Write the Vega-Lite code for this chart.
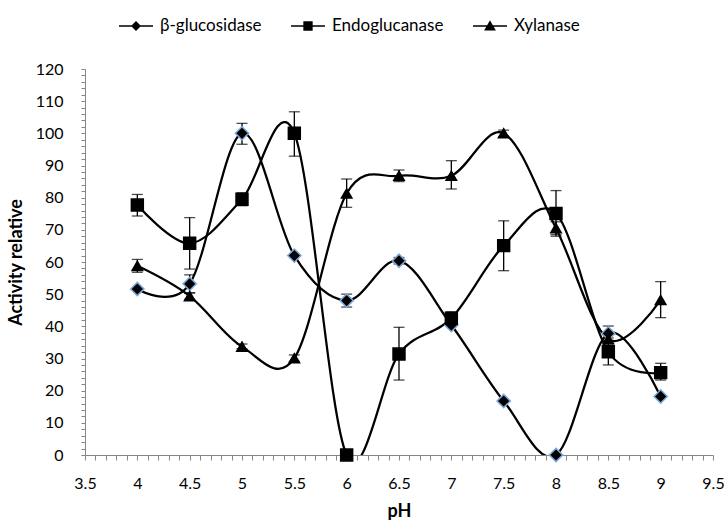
{
  "$schema": "https://vega.github.io/schema/vega-lite/v6.json",
  "width": 628,
  "height": 386,
  "autosize": {"type": "none"},
  "padding": {"left": 85, "top": 69, "right": 12, "bottom": 68},
  "background": "white",
  "config": {
    "view": {"stroke": null},
    "font": "Lato",
    "axis": {"labelFont": "Lato", "titleFont": "Lato", "labelColor": "black", "titleColor": "black", "grid": false, "domainColor": "#868686", "tickColor": "#868686", "labelFontSize": 16, "titleFontSize": 18, "labelOverlap": false}
  },
  "data": {"values": [
    {"pH": 4, "series": "β-glucosidase", "value": 51.6, "lo": null, "hi": null},
    {"pH": 4.5, "series": "β-glucosidase", "value": 53.2, "lo": 50.4, "hi": 56.0},
    {"pH": 5, "series": "β-glucosidase", "value": 100, "lo": 96.6, "hi": 103.1},
    {"pH": 5.5, "series": "β-glucosidase", "value": 62, "lo": null, "hi": null},
    {"pH": 6, "series": "β-glucosidase", "value": 48, "lo": 46, "hi": 50},
    {"pH": 6.5, "series": "β-glucosidase", "value": 60.4, "lo": 59.4, "hi": 61.4},
    {"pH": 7, "series": "β-glucosidase", "value": 40.4, "lo": null, "hi": null},
    {"pH": 7.5, "series": "β-glucosidase", "value": 16.8, "lo": null, "hi": null},
    {"pH": 8, "series": "β-glucosidase", "value": 0, "lo": null, "hi": null},
    {"pH": 8.5, "series": "β-glucosidase", "value": 37.8, "lo": 35.5, "hi": 40.1},
    {"pH": 9, "series": "β-glucosidase", "value": 18.2, "lo": null, "hi": null},
    {"pH": 4, "series": "Endoglucanase", "value": 77.7, "lo": 74.3, "hi": 81},
    {"pH": 4.5, "series": "Endoglucanase", "value": 65.8, "lo": 57.8, "hi": 73.8},
    {"pH": 5, "series": "Endoglucanase", "value": 79.5, "lo": 77.5, "hi": 81.5},
    {"pH": 5.5, "series": "Endoglucanase", "value": 100, "lo": 92.9, "hi": 106.7},
    {"pH": 6, "series": "Endoglucanase", "value": 0, "lo": null, "hi": null},
    {"pH": 6.5, "series": "Endoglucanase", "value": 31.4, "lo": 23.3, "hi": 39.7},
    {"pH": 7, "series": "Endoglucanase", "value": 42.5, "lo": 40.5, "hi": 44.5},
    {"pH": 7.5, "series": "Endoglucanase", "value": 65.1, "lo": 57.3, "hi": 72.8},
    {"pH": 8, "series": "Endoglucanase", "value": 75.1, "lo": 68, "hi": 82.2},
    {"pH": 8.5, "series": "Endoglucanase", "value": 32.1, "lo": 28, "hi": 36.4},
    {"pH": 9, "series": "Endoglucanase", "value": 25.6, "lo": 23.3, "hi": 28.5},
    {"pH": 4, "series": "Xylanase", "value": 58.8, "lo": 56.8, "hi": 60.8},
    {"pH": 4.5, "series": "Xylanase", "value": 49.4, "lo": 48.4, "hi": 50.4},
    {"pH": 5, "series": "Xylanase", "value": 33.7, "lo": 33, "hi": 34.5},
    {"pH": 5.5, "series": "Xylanase", "value": 30.1, "lo": 29.1, "hi": 31.1},
    {"pH": 6, "series": "Xylanase", "value": 81.3, "lo": 77, "hi": 85.8},
    {"pH": 6.5, "series": "Xylanase", "value": 86.8, "lo": 85, "hi": 88.6},
    {"pH": 7, "series": "Xylanase", "value": 86.8, "lo": 82.7, "hi": 91.5},
    {"pH": 7.5, "series": "Xylanase", "value": 100, "lo": 99, "hi": 101},
    {"pH": 8, "series": "Xylanase", "value": 70.5, "lo": 68.5, "hi": 72.5},
    {"pH": 8.5, "series": "Xylanase", "value": 36, "lo": 34.5, "hi": 37.5},
    {"pH": 9, "series": "Xylanase", "value": 48.2, "lo": 42.7, "hi": 53.9}
  ]},
  "encoding": {
    "x": {"field": "pH", "type": "quantitative", "scale": {"domain": [3.5, 9.5], "nice": false, "zero": false},
      "axis": {"title": "pH", "titleFontWeight": "bold", "titlePadding": 11, "tickSize": 5, "labelPadding": 15, "labelFlush": false,
        "values": [3.5,3.6,3.7,3.8,3.9,4.0,4.1,4.2,4.3,4.4,4.5,4.6,4.7,4.8,4.9,5.0,5.1,5.2,5.3,5.4,5.5,5.6,5.7,5.8,5.9,6.0,6.1,6.2,6.3,6.4,6.5,6.6,6.7,6.8,6.9,7.0,7.1,7.2,7.3,7.4,7.5,7.6,7.7,7.8,7.9,8.0,8.1,8.2,8.3,8.4,8.5,8.6,8.7,8.8,8.9,9.0,9.1,9.2,9.3,9.4,9.5],
        "labelExpr": "abs(datum.value*2 - round(datum.value*2)) < 0.01 ? format(datum.value, '~g') : ''"}},
    "y": {"field": "value", "type": "quantitative", "scale": {"domain": [0, 120], "nice": false},
      "axis": {"title": "Activity relative", "titleFontWeight": "bold", "titlePadding": 10, "tickSize": 4, "labelPadding": 18,
        "values": [0,2,4,6,8,10,12,14,16,18,20,22,24,26,28,30,32,34,36,38,40,42,44,46,48,50,52,54,56,58,60,62,64,66,68,70,72,74,76,78,80,82,84,86,88,90,92,94,96,98,100,102,104,106,108,110,112,114,116,118,120],
        "labelExpr": "datum.value % 10 == 0 ? format(datum.value, 'd') : ''"}}
  },
  "layer": [
    {
      "mark": {"type": "line", "interpolate": "cardinal", "tension": 0, "color": "black", "strokeWidth": 2.25, "clip": true},
      "encoding": {"detail": {"field": "series"}}
    },
    {
      "transform": [{"filter": "datum.lo != null"}],
      "mark": {"type": "rule", "color": "black", "strokeWidth": 1.3},
      "encoding": {"y": {"field": "lo", "type": "quantitative"}, "y2": {"field": "hi"}}
    },
    {
      "transform": [{"filter": "datum.lo != null"}],
      "mark": {"type": "tick", "orient": "horizontal", "color": "black", "size": 11, "thickness": 1.3},
      "encoding": {"y": {"field": "lo", "type": "quantitative"}}
    },
    {
      "transform": [{"filter": "datum.lo != null"}],
      "mark": {"type": "tick", "orient": "horizontal", "color": "black", "size": 11, "thickness": 1.3},
      "encoding": {"y": {"field": "hi", "type": "quantitative"}}
    },
    {
      "mark": {"type": "point", "filled": true, "fill": "black", "strokeWidth": 1.5, "opacity": 1},
      "encoding": {
        "shape": {"field": "series", "type": "nominal", "scale": {"domain": ["β-glucosidase", "Endoglucanase", "Xylanase"], "range": ["diamond", "square", "triangle-up"]}, "legend": null},
        "stroke": {"field": "series", "type": "nominal", "scale": {"domain": ["β-glucosidase", "Endoglucanase", "Xylanase"], "range": ["#7BA7D9", "black", "black"]}, "legend": null},
        "size": {"field": "series", "type": "nominal", "scale": {"domain": ["β-glucosidase", "Endoglucanase", "Xylanase"], "range": [175, 110, 120]}, "legend": null}
      }
    },
    {
      "mark": {"type": "point", "filled": true, "fill": "black", "stroke": "black", "strokeWidth": 2, "opacity": 0},
      "encoding": {
        "shape": {"field": "series", "type": "nominal", "title": null,
          "scale": {"domain": ["β-glucosidase", "Endoglucanase", "Xylanase"], "range": ["M-1,0H1M0,-0.23L0.23,0L0,0.23L-0.23,0Z", "M-1,0H1M-0.23,-0.23H0.23V0.23H-0.23Z", "M-1,0H1M0,-0.25L0.27,0.22H-0.27Z"]},
          "legend": {"orient": "none", "legendX": 33, "legendY": -61, "direction": "horizontal", "symbolSize": 1156, "labelFont": "Lato", "labelFontSize": 17, "labelColor": "black", "labelOffset": 6, "columnPadding": 26, "labelLimit": 300,
            "encode": {"symbols": {"update": {"stroke": {"value": "black"}, "strokeWidth": {"value": 2}, "fill": {"value": "black"}, "opacity": {"value": 1}, "fillOpacity": {"value": 1}, "strokeOpacity": {"value": 1}}}}}}
      }
    }
  ],
  "resolve": {"scale": {"shape": "independent"}, "legend": {"shape": "independent"}}
}
